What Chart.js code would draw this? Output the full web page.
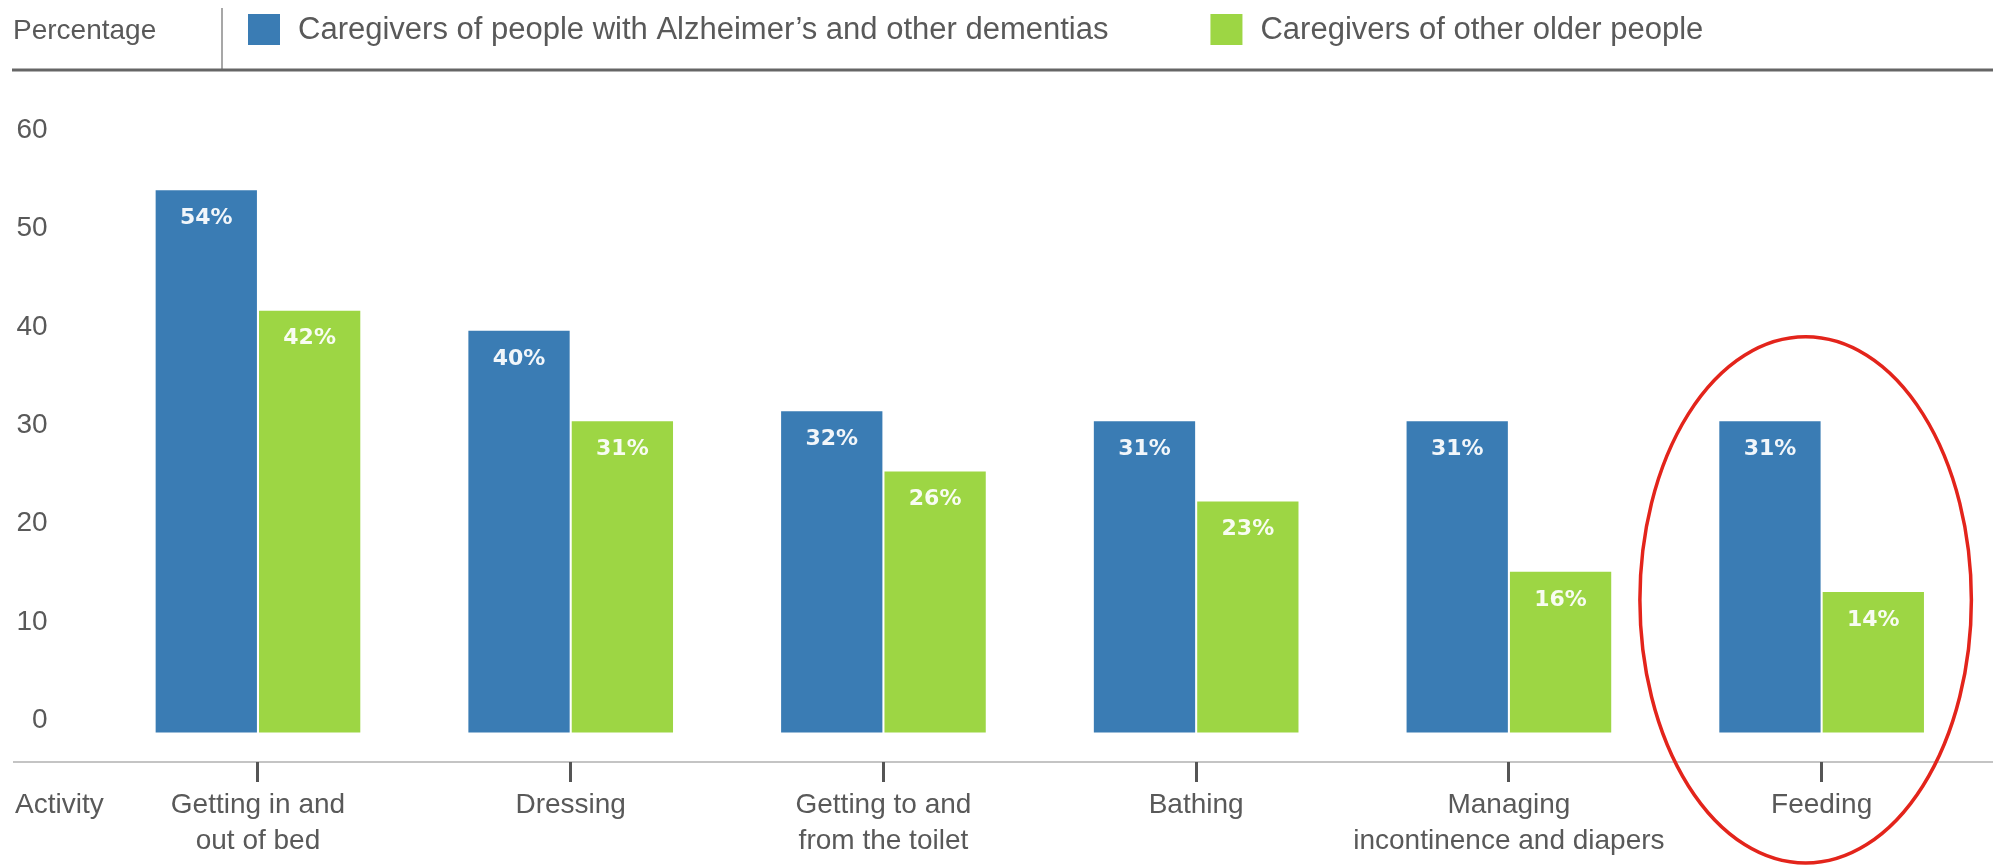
<!DOCTYPE html>
<html>
<head>
<meta charset="utf-8">
<title>Caregivers helping with personal care</title>
<script src="https://cdn.jsdelivr.net/npm/chart.js@4.4.1/dist/chart.umd.min.js"></script>
<style>
  html, body { margin: 0; padding: 0; background: #fff; }
  canvas { display: block; }
</style>
</head>
<body>
<canvas id="careChart" width="1993" height="865"></canvas>
<script>
const activities = [
    ['Getting in and', 'out of bed'],
    'Dressing',
    ['Getting to and', 'from the toilet'],
    'Bathing',
    ['Managing', 'incontinence and diapers'],
    'Feeding'
];
const dementiaCaregivers = [54, 40, 32, 31, 31, 31];
const otherCaregivers = [42, 31, 26, 23, 16, 14];
const yTicks = [0, 10, 20, 30, 40, 50, 60];
const seriesNames = ['Caregivers of people with Alzheimer\u2019s and other dementias', 'Caregivers of other older people'];
const highlighted = 'Feeding';

const BLUE = '#3a7cb4';
const GREEN = '#9dd644';
const TEXT = '#595959';
const FONT = '"Liberation Sans", Arial, sans-serif';

// header row: axis name, separator, legend and the rule under it
const headerPlugin = {
    id: 'header',
    afterDraw(chart) {
        const ctx = chart.ctx;
        ctx.save();
        ctx.fillStyle = TEXT;
        ctx.font = '28px ' + FONT;
        ctx.textBaseline = 'middle';
        ctx.fillText('Percentage', 13, 31);
        ctx.fillText('Activity', 15, 805);

        ctx.strokeStyle = '#8a8a8a';
        ctx.lineWidth = 1.5;
        ctx.beginPath();
        ctx.moveTo(222, 8);
        ctx.lineTo(222, 70);
        ctx.stroke();

        ctx.strokeStyle = '#666';
        ctx.lineWidth = 3;
        ctx.beginPath();
        ctx.moveTo(12, 70);
        ctx.lineTo(chart.width, 70);
        ctx.stroke();

        ctx.font = '31px ' + FONT;
        let x = 248;
        chart.data.datasets.forEach(ds => {
            ctx.fillStyle = ds.backgroundColor;
            ctx.fillRect(x, 14, 32, 31);
            ctx.fillStyle = TEXT;
            ctx.fillText(ds.label, x + 50, 30);
            x += 50 + ctx.measureText(ds.label).width + 102;
        });
        ctx.restore();
    }
};

// light baseline running under the whole plot, tick marks sit on top of it
const baselinePlugin = {
    id: 'baseline',
    beforeDraw(chart) {
        const ctx = chart.ctx;
        const y = chart.chartArea.bottom;
        ctx.save();
        ctx.strokeStyle = '#c4c4c4';
        ctx.lineWidth = 2;
        ctx.beginPath();
        ctx.moveTo(13, y);
        ctx.lineTo(chart.width, y);
        ctx.stroke();
        ctx.restore();
    }
};

const valueLabels = {
    id: 'valueLabels',
    afterDatasetsDraw(chart) {
        const ctx = chart.ctx;
        ctx.save();
        ctx.font = 'bold 22px "DejaVu Sans", sans-serif';
        ctx.textAlign = 'center';
        ctx.textBaseline = 'middle';
        ctx.fillStyle = 'rgba(255, 255, 255, 0.93)';
        chart.data.datasets.forEach((ds, di) => {
            chart.getDatasetMeta(di).data.forEach((bar, i) => {
                ctx.fillText(ds.data[i] + '%', bar.x, bar.y + 28);
            });
        });
        ctx.restore();
    }
};

// red ring around the highlighted activity
const highlightPlugin = {
    id: 'highlight',
    afterDraw(chart) {
        const xs = chart.scales.x, ys = chart.scales.y;
        const i = activities.indexOf(highlighted);
        const cx = xs.getPixelForValue(i) - 16;
        const cy = ys.getPixelForValue(13.2);
        const rx = xs.width / activities.length * 0.53;
        const ry = ys.getPixelForValue(0) - ys.getPixelForValue(26.2);
        const ctx = chart.ctx;
        ctx.save();
        ctx.strokeStyle = '#e3241b';
        ctx.lineWidth = 3.5;
        ctx.beginPath();
        ctx.ellipse(cx, cy, rx, ry, 0, 0, Math.PI * 2);
        ctx.stroke();
        ctx.restore();
    }
};

new Chart(document.getElementById('careChart'), {
    type: 'bar',
    data: {
        labels: activities,
        datasets: [
            { label: seriesNames[0], data: dementiaCaregivers, backgroundColor: BLUE, yAxisID: 'y' },
            { label: seriesNames[1], data: otherCaregivers, backgroundColor: GREEN, yAxisID: 'y' }
        ]
    },
    options: {
        responsive: false,
        animation: false,
        devicePixelRatio: 1,
        layout: { padding: { top: 130, right: 15, bottom: 0, left: 0 } },
        datasets: { bar: { categoryPercentage: 0.661, barPercentage: 0.98 } },
        plugins: { legend: { display: false }, tooltip: { enabled: false } },
        scales: {
            x: {
                grid: { drawOnChartArea: false, offset: false, tickLength: 20, lineWidth: 3, color: '#555' },
                border: { display: false },
                ticks: {
                    autoSkip: false,
                    maxRotation: 0,
                    padding: 5,
                    color: TEXT,
                    font: { family: FONT, size: 28, lineHeight: 1.3 }
                },
                afterFit: s => { s.height = 103; }
            },
            // value scale for the bars; the axis line sits a little below zero
            y: { display: false, min: -2.94, max: 60 },
            // printed tick column, spaced a touch tighter than the bars
            yLabels: {
                type: 'linear',
                position: 'left',
                min: -4.27,
                max: 60.05,
                grid: { display: false, drawTicks: false },
                border: { display: false },
                ticks: { padding: 54, color: TEXT, font: { family: FONT, size: 28 } },
                afterBuildTicks: s => { s.ticks = yTicks.map(v => ({ value: v })); },
                afterFit: s => { s.width = 101.6; }
            }
        }
    },
    plugins: [baselinePlugin, valueLabels, headerPlugin, highlightPlugin]
});
</script>
</body>
</html>
